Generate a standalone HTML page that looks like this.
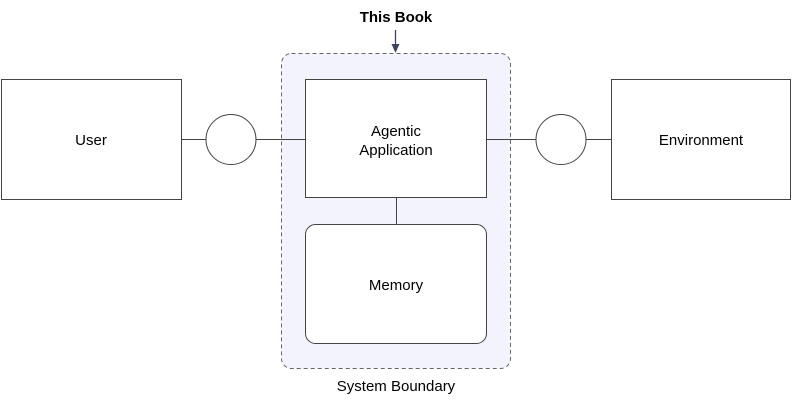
<!DOCTYPE html>
<html><head><style>body{margin:0;background:#fff}</style></head><body>
<svg width="792" height="403" xmlns="http://www.w3.org/2000/svg" font-family="Liberation Sans, Arial, sans-serif">
<rect x="281.5" y="53.5" width="229" height="315" rx="10" fill="#f3f3fe" stroke="#666" stroke-dasharray="4 3"/>
<text x="396" y="22" text-anchor="middle" font-size="15" font-weight="bold">This Book</text>
<line x1="395.5" y1="30" x2="395.5" y2="46" stroke="#3d4460" stroke-width="1.3"/>
<polygon points="391.5,44 399.5,44 395.5,53" fill="#3d4460"/>
<g stroke="#444" stroke-width="1" fill="#fff">
<line x1="181" y1="139.5" x2="305" y2="139.5"/>
<line x1="486" y1="139.5" x2="611" y2="139.5"/>
<line x1="396.5" y1="197" x2="396.5" y2="224"/>
<rect x="1.5" y="79.5" width="180" height="120"/>
<rect x="611.5" y="79.5" width="179" height="120"/>
<rect x="305.5" y="79.5" width="181" height="118"/>
<rect x="305.5" y="224.5" width="181" height="119" rx="10"/>
<circle cx="231" cy="139.5" r="25"/>
<circle cx="561" cy="139.5" r="25"/>
</g>
<g font-size="15" text-anchor="middle" fill="#000">
<text x="91" y="145">User</text>
<text x="701" y="145">Environment</text>
<text x="396" y="136">Agentic</text>
<text x="396" y="155">Application</text>
<text x="396" y="290">Memory</text>
<text x="396" y="391">System Boundary</text>
</g>
</svg>
</body></html>
